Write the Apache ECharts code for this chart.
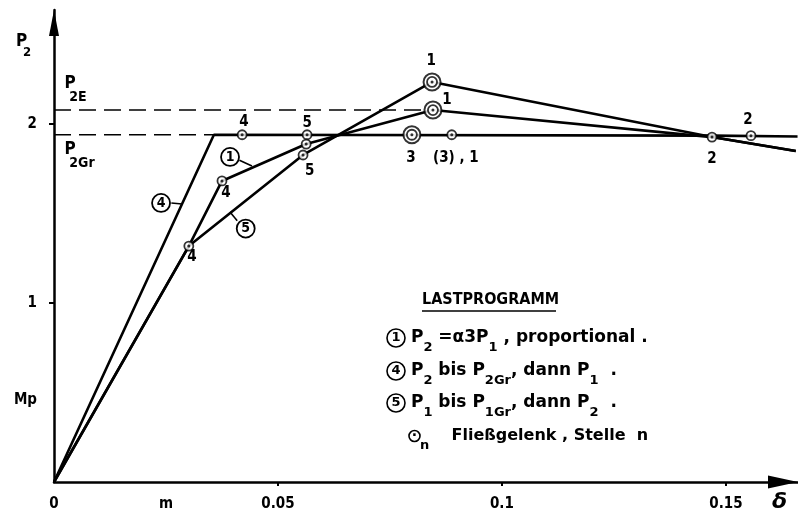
<!DOCTYPE html>
<html>
<head>
<meta charset="utf-8">
<script src="https://cdn.jsdelivr.net/npm/echarts@6/dist/echarts.min.js"></script>
<style>html,body{margin:0;padding:0;background:#fff}#c{width:798px;height:518px}</style>
</head>
<body>
<div id="c"></div>
<script>
// ---------- data ----------
const FONT = '"DejaVu Sans Condensed","DejaVu Sans",sans-serif';
const FONT_W = '"DejaVu Sans",sans-serif';
const xTickValues = [0.05, 0.1, 0.15];
const xLabelValues = [0, 0.025, 0.05, 0.1, 0.15];
const xLabelTexts = ['0', 'm', '0.05', '0.1', '0.15'];
const yTickValues = [1, 2];
const yLabelValues = [0.458, 1, 2];
const yLabelTexts = ['Mp', '1', '2'];

const P2E = 2.078;
const P2Gr = 1.94;

// load paths (delta, P2)
const curve4 = [[0, 0], [0.0357, 1.94], [0.147, 1.935], [0.166, 1.93]];
const curve1 = [[0, 0], [0.0301, 1.318], [0.0375, 1.682], [0.0563, 1.888], [0.0846, 2.078], [0.1469, 1.927], [0.1656, 1.849]];
const curve5 = [[0, 0], [0.0301, 1.318], [0.0556, 1.827], [0.0844, 2.235], [0.1469, 1.927], [0.1656, 1.849]];

const p2eLine = [[0, P2E], [0.0846, P2E]];
const p2grLine = [[0, P2Gr], [0.0357, P2Gr]];

// plastic hinges
const hingesSingle = [[0.042, 1.94], [0.0565, 1.94], [0.0888, 1.94], [0.1556, 1.935], [0.0375, 1.682], [0.0563, 1.888], [0.1469, 1.927], [0.0301, 1.318], [0.0556, 1.827]];
const hingesDouble = [[0.0844, 2.235], [0.0846, 2.078], [0.0799, 1.94]];

// hinge numbers
const hingeNumText = ['4', '5', '5', '4', '4', '1', '1', '3', '(3) , 1', '2', '2'];
const hingeNumAt = [[0.0424, 2.011], [0.0565, 2.006], [0.0571, 1.737], [0.0384, 1.615], [0.0308, 1.257], [0.0842, 2.352], [0.0877, 2.134], [0.0797, 1.81], [0.0897, 1.81], [0.1469, 1.804], [0.1549, 2.022]];

// circled program labels + leader lines
const progText = ['1', '4', '5'];
const progAt = [[0.0393, 1.816], [0.0239, 1.559], [0.0428, 1.416]];
const leaders = [
  [[0.0414, 1.797], [0.0442, 1.765]],
  [[0.0262, 1.559], [0.0286, 1.553]],
  [[0.0409, 1.459], [0.0393, 1.508]]
];

// P2E / P2Gr labels
const bigP = [[0.00357, 2.225], [0.00357, 1.857]];
const subText = ['2E', '2Gr'];
const subAt = [[0.00536, 2.151], [0.00625, 1.782]];

// ---------- chart ----------
const chart = echarts.init(document.getElementById('c'), null, {renderer: 'canvas'});
const BLACK = '#000';
const lineS = (data, w, dash, z) => ({
  type: 'line', data, symbol: 'none', clip: false, silent: true, z: z || 2,
  lineStyle: {color: BLACK, width: w, type: dash || 'solid'}
});
const ringS = (data, size, bw, fill, z) => ({
  type: 'scatter', data, symbol: 'circle', symbolSize: size, clip: false, silent: true, z,
  itemStyle: {color: fill, borderColor: BLACK, borderWidth: bw}
});
const textS = (items, fontSize, rich) => ({
  type: 'scatter', data: items, symbol: 'circle', symbolSize: 1, clip: false, silent: true, z: 8,
  itemStyle: {color: '#fff', opacity: 1},
  label: {show: true, position: 'inside', formatter: rich ? '{c|{b}}' : '{b}', color: BLACK, opacity: 1,
    textBorderWidth: 0, fontSize, fontWeight: 'bold', fontFamily: FONT, rich: rich || undefined}
});

const series = [
  lineS(p2eLine, 1.6, [17, 8]),
  lineS(p2grLine, 1.6, [17, 8]),
  lineS(curve4, 2.6),
  lineS(curve1, 2.6),
  lineS(curve5, 2.6),
  ...leaders.map(l => lineS(l, 1.6)),
  ringS(hingesDouble, 17, 2, '#fff', 5),
  ringS(hingesDouble, 10, 1.8, '#fff', 6),
  ringS(hingesSingle, 9, 1.8, '#fff', 6),
  ringS(hingesDouble.concat(hingesSingle), 3, 0, BLACK, 7),
  textS(hingeNumText.map((t, i) => ({name: t, value: hingeNumAt[i]})), 15),
  textS(progText.map((t, i) => ({name: t, value: progAt[i]})), 14, {
    c: {width: 18, height: 18, lineHeight: 18, borderRadius: 10, borderWidth: 1.8, borderColor: BLACK,
      align: 'center', fontSize: 14, fontWeight: 'bold', fontFamily: FONT, color: BLACK}
  }),
  textS(bigP.map(v => ({name: 'P', value: v})), 17),
  textS(subText.map((t, i) => ({name: t, value: subAt[i]})), 14)
];

const mk = {fontFamily: FONT_W, fontWeight: 'bold', fill: BLACK};
const legendRich = {
  m: Object.assign({fontSize: 17, lineHeight: 19}, mk),
  s: Object.assign({fontSize: 13, lineHeight: 13, padding: [20, 0, 0, 0]}, mk),
  c: Object.assign({fontSize: 13, width: 18, height: 18, lineHeight: 18, borderRadius: 10, borderWidth: 1.6, borderColor: BLACK, align: 'center'}, mk),
  o: Object.assign({fontSize: 14, width: 11, height: 11, lineHeight: 11, borderRadius: 6, borderWidth: 1.6, borderColor: BLACK, align: 'center'}, mk),
  f: Object.assign({fontSize: 16, lineHeight: 17}, mk)
};
const txt = (x, y, text, extra) => ({
  type: 'text', x, y, silent: true, z: 10,
  style: Object.assign({text, fontFamily: FONT_W, fontWeight: 'bold', fontSize: 17, fill: BLACK,
    align: 'left', verticalAlign: 'middle', rich: legendRich}, extra || {})
});

const graphic = [
  txt(16, 42, 'P', {fontSize: 17, fontFamily: FONT}),
  txt(23, 53, '2', {fontSize: 13, fontFamily: FONT}),
  txt(772, 502, 'δ', {fontSize: 22, fontStyle: 'italic'}),
  txt(422, 300, 'LASTPROGRAMM', {fontSize: 16, fontFamily: FONT}),
  {type: 'line', silent: true, shape: {x1: 422, y1: 311, x2: 556, y2: 311}, style: {stroke: BLACK, lineWidth: 1.5}},
  txt(387, 338, '{c|1} {m|P}{s|2}{m| =α3P}{s|1}{m| , proportional .}'),
  txt(387, 371, '{c|4} {m|P}{s|2}{m| bis P}{s|2Gr}{m|, dann P}{s|1}{m|  .}'),
  txt(387, 403, '{c|5} {m|P}{s|1}{m| bis P}{s|1Gr}{m|, dann P}{s|2}{m|  .}'),
  txt(409, 436, '{o|·}{s|n}{f|    Fließgelenk , Stelle  n}')
];

chart.setOption({
  animation: false,
  backgroundColor: '#fff',
  grid: {left: 54, right: 0, top: 10, bottom: 36, containLabel: false},
  xAxis: {
    type: 'value', min: 0, max: 0.1661,
    splitLine: {show: false},
    axisLine: {lineStyle: {color: BLACK, width: 2.5}, symbol: ['none', 'triangle'], symbolSize: [13, 30], symbolOffset: [0, -15]},
    axisTick: {show: true, customValues: xTickValues, length: 4, inside: false, lineStyle: {color: BLACK, width: 2}},
    axisLabel: {
      customValues: xLabelValues, margin: 15, color: BLACK, fontSize: 15, fontWeight: 'bold', fontFamily: FONT,
      formatter: v => { const i = xLabelValues.findIndex(t => Math.abs(t - v) < 1e-9); return i >= 0 ? xLabelTexts[i] : ''; }
    }
  },
  yAxis: {
    type: 'value', min: 0, max: 2.637,
    splitLine: {show: false},
    axisLine: {lineStyle: {color: BLACK, width: 2.5}, symbol: ['none', 'triangle'], symbolSize: [10, 26], symbolOffset: [0, -13]},
    axisTick: {show: true, customValues: yTickValues, length: 5, inside: false, lineStyle: {color: BLACK, width: 2}},
    axisLabel: {
      customValues: yLabelValues, margin: 17, color: BLACK, fontSize: 15, fontWeight: 'bold', fontFamily: FONT,
      formatter: v => { const i = yLabelValues.findIndex(t => Math.abs(t - v) < 1e-9); return i >= 0 ? yLabelTexts[i] : ''; }
    }
  },
  graphic,
  series
});
</script>
</body>
</html>
